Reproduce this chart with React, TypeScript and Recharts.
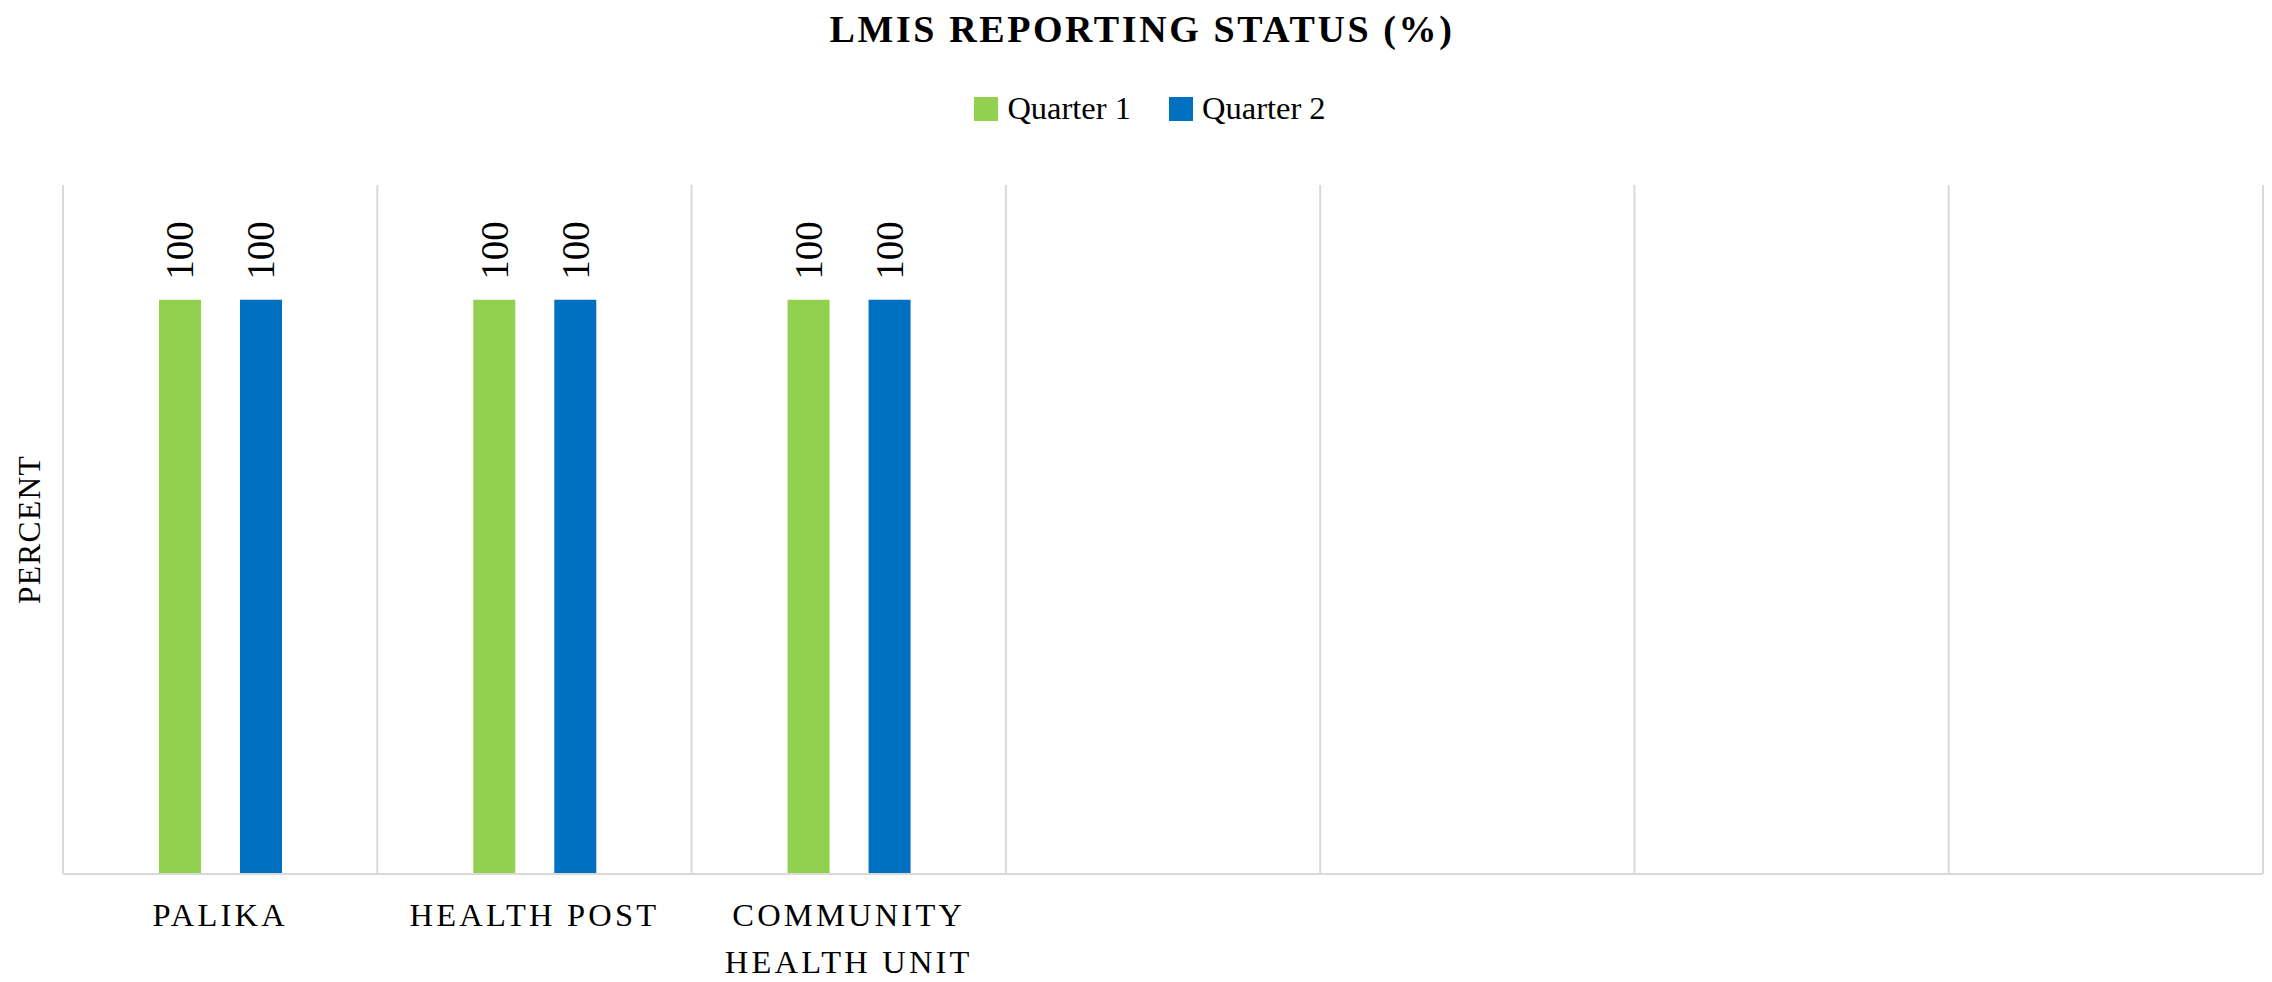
import React from 'react';
import { BarChart, Bar, XAxis, YAxis, CartesianGrid, LabelList } from 'recharts';

const categories = ['PALIKA', 'HEALTH POST', 'COMMUNITY HEALTH UNIT', '', '', '', ''];
const quarter1 = [100, 100, 100, null, null, null, null];
const quarter2 = [100, 100, 100, null, null, null, null];
const seriesNames = ['Quarter 1', 'Quarter 2'];
const seriesColors = ['#92D050', '#0070C0'];
const yDomain = [0, 120];

const data = categories.map((c, i) => ({ name: c, q1: quarter1[i], q2: quarter2[i] }));

const FONT = '"Liberation Serif", "Times New Roman", serif';
const W = 2272;
const H = 982;

function wrapWords(text: string, maxChars: number): string[] {
  const words = text.split(' ');
  const lines: string[] = [];
  let cur = '';
  for (const w of words) {
    if (!cur) cur = w;
    else if ((cur + ' ' + w).length <= maxChars) cur = cur + ' ' + w;
    else {
      lines.push(cur);
      cur = w;
    }
  }
  if (cur) lines.push(cur);
  return lines;
}

const XTick = (props: any) => {
  const { x, y, payload } = props;
  const lines = wrapWords(String(payload.value || ''), 12);
  return (
    <g>
      {lines.map((l, i) => (
        <text
          key={i}
          x={x}
          y={y + 33 + i * 47}
          textAnchor="middle"
          dominantBaseline="central"
          fontFamily={FONT}
          fontSize={32.5}
          letterSpacing={3.2}
          fill="#000"
        >
          {l}
        </text>
      ))}
    </g>
  );
};

const TopLabel = (props: any) => {
  const { x, y, width, value } = props;
  if (value === null || value === undefined) return null;
  const cx = x + width / 2;
  const cy = y - 20;
  return (
    <text
      x={cx}
      y={cy}
      transform={`rotate(-90 ${cx} ${cy})`}
      textAnchor="start"
      dominantBaseline="central"
      fontFamily={FONT}
      fontSize={39}
      fill="#000"
    >
      {value}
    </text>
  );
};

const vGen = (props: any) => {
  const { offset } = props;
  const n = categories.length;
  const out: number[] = [];
  for (let i = 0; i <= n; i++) out.push(offset.left + (offset.width * i) / n);
  return out;
};

export default function App() {
  return (
    <div style={{ position: 'absolute', left: 0, top: 0, width: W, height: H, background: '#fff' }}>
      <div
        style={{
          position: 'absolute',
          left: 6,
          top: 8,
          width: W,
          textAlign: 'center',
          fontFamily: FONT,
          fontWeight: 'bold',
          fontSize: 38,
          letterSpacing: 2.6,
          lineHeight: '42px',
          color: '#000',
        }}
      >
        LMIS REPORTING STATUS (%)
      </div>
      <div
        style={{
          position: 'absolute',
          left: 14,
          top: 90,
          width: W,
          display: 'flex',
          justifyContent: 'center',
          alignItems: 'center',
          fontFamily: FONT,
          fontSize: 32.5,
          color: '#000',
        }}
      >
        {seriesNames.map((n, i) => (
          <div key={n} style={{ display: 'flex', alignItems: 'center', marginRight: i === 0 ? 38 : 0 }}>
            <div style={{ width: 24, height: 24, background: seriesColors[i], marginRight: 9 }} />
            <span>{n}</span>
          </div>
        ))}
      </div>
      <div style={{ position: 'absolute', left: 0, top: 0 }}>
        <BarChart
          width={W}
          height={H}
          data={data}
          margin={{ top: 185, right: 9, bottom: 0, left: 0 }}
          barSize={42}
          barGap={39}
        >
          <CartesianGrid
            horizontal={false}
            vertical={true}
            stroke="#d9d9d9"
            strokeWidth={2}
            verticalCoordinatesGenerator={vGen}
          />
          <XAxis
            dataKey="name"
            height={108}
            interval={0}
            tickLine={false}
            axisLine={{ stroke: '#d9d9d9', strokeWidth: 2 }}
            tick={<XTick />}
          />
          <YAxis
            width={63}
            domain={yDomain}
            tick={false}
            tickLine={false}
            axisLine={false}
            label={(p: any) => {
              const vb = p.viewBox || {};
              const cx = 29;
              const cy = vb.y + vb.height / 2;
              return (
                <text
                  x={cx}
                  y={cy}
                  transform={`rotate(-90 ${cx} ${cy})`}
                  textAnchor="middle"
                  dominantBaseline="central"
                  fontFamily={FONT}
                  fontSize={31.5}
                  letterSpacing={1.3}
                  fill="#000"
                >
                  PERCENT
                </text>
              );
            }}
          />
          <Bar dataKey="q1" name={seriesNames[0]} fill={seriesColors[0]} isAnimationActive={false}>
            <LabelList dataKey="q1" content={<TopLabel />} />
          </Bar>
          <Bar dataKey="q2" name={seriesNames[1]} fill={seriesColors[1]} isAnimationActive={false}>
            <LabelList dataKey="q2" content={<TopLabel />} />
          </Bar>
        </BarChart>
      </div>
    </div>
  );
}
